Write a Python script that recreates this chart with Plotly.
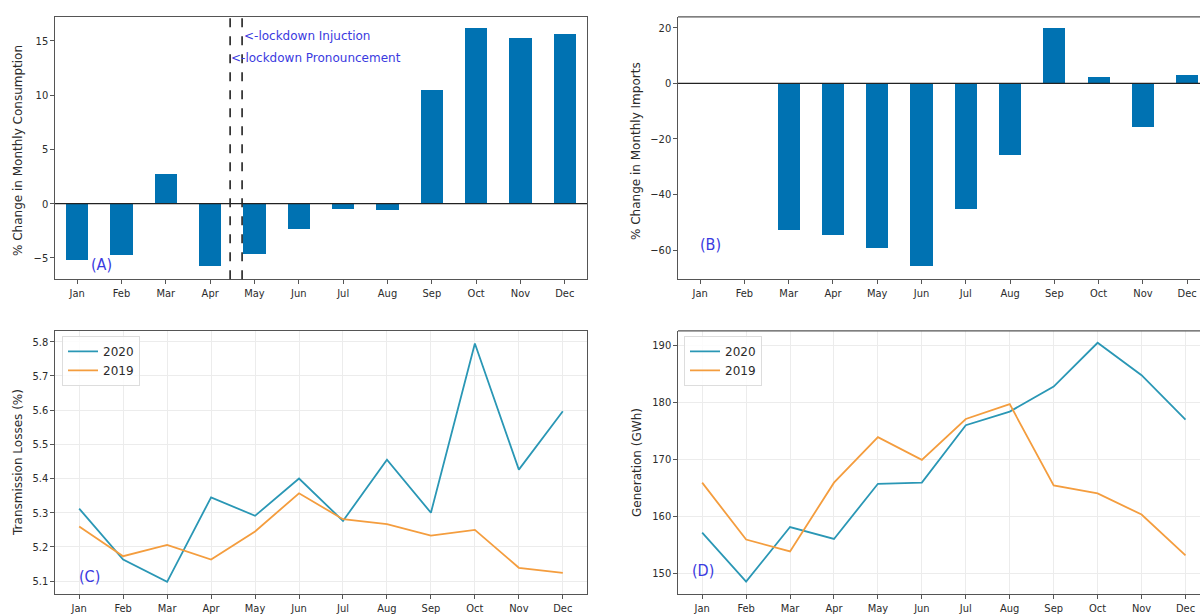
import plotly.graph_objects as go

months = ["Jan", "Feb", "Mar", "Apr", "May", "Jun", "Jul", "Aug", "Sep", "Oct", "Nov", "Dec"]

# (A) % change in monthly consumption, 2020 vs 2019
consumption_change = [-5.2, -4.75, 2.7, -5.7, -4.65, -2.3, -0.5, -0.6, 10.5, 16.2, 15.3, 15.6]
# (B) % change in monthly imports
imports_change = [None, None, -52.7, -54.6, -59.3, -65.8, -45.2, -25.6, 20.0, 2.4, -15.7, 3.2]
# (C) transmission losses (%)
losses_2020 = [5.312, 5.163, 5.098, 5.345, 5.291, 5.400, 5.276, 5.455, 5.300, 5.795, 5.426, 5.597]
losses_2019 = [5.260, 5.173, 5.206, 5.163, 5.245, 5.357, 5.281, 5.267, 5.233, 5.250, 5.139, 5.124]
# (D) generation (GWh)
gen_2020 = [157.1, 148.5, 158.1, 156.0, 165.7, 165.9, 176.0, 178.4, 182.8, 190.5, 184.8, 177.0]
gen_2019 = [165.9, 155.9, 153.8, 165.9, 173.9, 169.9, 177.1, 179.7, 165.4, 164.0, 160.3, 153.1]

# lockdown markers, in month-index units (between Apr and May)
lockdown_pronouncement = 3.45
lockdown_injuction = 3.72

W, H = 1200, 615
BAR = "#0072b2"
C2020 = "#2a97b5"
C2019 = "#f49d3e"
TXT = "#2b2b2b"
SPINE = "#555555"
NOTE = "#3a3ae0"
TICKFONT = "DejaVu Sans Condensed, Liberation Sans Narrow, DejaVu Sans"
FONT = "DejaVu Sans"

idx = list(range(12))


def px_x(a, b):
    return [a / W, b / W]


def px_y(top, bottom):
    return [1 - bottom / H, 1 - top / H]


fig = go.Figure()

fig.add_trace(go.Bar(x=idx, y=consumption_change, width=0.5, marker=dict(color=BAR, line_width=0),
                     xaxis="x", yaxis="y", showlegend=False))
fig.add_trace(go.Bar(x=idx, y=imports_change, width=0.5, marker=dict(color=BAR, line_width=0),
                     xaxis="x2", yaxis="y2", showlegend=False))
fig.add_trace(go.Scatter(x=idx, y=losses_2020, mode="lines", name="2020", line=dict(color=C2020, width=1.8),
                         xaxis="x3", yaxis="y3", legend="legend"))
fig.add_trace(go.Scatter(x=idx, y=losses_2019, mode="lines", name="2019", line=dict(color=C2019, width=1.8),
                         xaxis="x3", yaxis="y3", legend="legend"))
fig.add_trace(go.Scatter(x=idx, y=gen_2020, mode="lines", name="2020", line=dict(color=C2020, width=1.8),
                         xaxis="x4", yaxis="y4", legend="legend2"))
fig.add_trace(go.Scatter(x=idx, y=gen_2019, mode="lines", name="2019", line=dict(color=C2019, width=1.8),
                         xaxis="x4", yaxis="y4", legend="legend2"))

tickfont = dict(family=TICKFONT, size=11, color=TXT)


def xax(domain, rng, anchor, grid, mirror):
    return dict(domain=domain, range=rng, anchor=anchor, tickmode="array", tickvals=idx, ticktext=months,
                tickfont=tickfont, ticks="outside", ticklen=3.5, tickcolor=SPINE, showline=True,
                linecolor=SPINE, linewidth=1.2, mirror=mirror, showgrid=grid, gridcolor="#ececec",
                gridwidth=1, zeroline=False, fixedrange=True)


def yax(domain, rng, anchor, tickvals, ticktext, grid, mirror):
    return dict(domain=domain, range=rng, anchor=anchor, tickmode="array", tickvals=tickvals,
                ticktext=ticktext, tickfont=tickfont, ticks="outside", ticklen=3.5, tickcolor=SPINE,
                showline=True, linecolor=SPINE, linewidth=1.2, mirror=mirror, showgrid=grid,
                gridcolor="#ececec", gridwidth=1, zeroline=False, fixedrange=True)


top_row = px_y(17, 281)
bot_row = px_y(333, 598)
left_col = px_x(55, 587)
right_col = px_x(678, 1200)

legend_style = dict(xanchor="left", yanchor="top", bgcolor="rgba(255,255,255,0.85)",
                    bordercolor="#dddddd", borderwidth=1, font=dict(family=FONT, size=12, color=TXT),
                    tracegroupgap=0, itemwidth=30)

fig.update_layout(
    width=W, height=H, margin=dict(l=0, r=0, t=0, b=0),
    paper_bgcolor="white", plot_bgcolor="white", bargap=0,
    font=dict(family=FONT, color=TXT),
    xaxis=xax(left_col, [-0.5, 11.5], "y", False, True),
    yaxis=yax(top_row, [-6.95, 17.2], "x", [-5, 0, 5, 10, 15], ["−5", "0", "5", "10", "15"], False, True),
    xaxis2=xax(right_col, [-0.5, 11.29], "y2", False, False),
    yaxis2=yax(top_row, [-70.4, 23.9], "x2", [-60, -40, -20, 0, 20], ["−60", "−40", "−20", "0", "20"], False, False),
    xaxis3=xax(left_col, [-0.55, 11.55], "y3", True, True),
    yaxis3=yax(bot_row, [5.062, 5.832], "x3", [5.1, 5.2, 5.3, 5.4, 5.5, 5.6, 5.7, 5.8],
               ["5.1", "5.2", "5.3", "5.4", "5.5", "5.6", "5.7", "5.8"], True, True),
    xaxis4=xax(right_col, [-0.55, 11.33], "y4", True, False),
    yaxis4=yax(bot_row, [146.3, 192.6], "x4", [150, 160, 170, 180, 190],
               ["150", "160", "170", "180", "190"], True, False),
    legend=dict(x=62 / W, y=1 - 338 / H, **legend_style),
    legend2=dict(x=684 / W, y=1 - 338 / H, **legend_style),
)

# top spine for the cropped right-hand panels
for xa, ya in (("x2", "y2"), ("x4", "y4")):
    fig.add_shape(type="line", xref=f"{xa} domain", yref=f"{ya} domain", x0=0, x1=1, y0=1, y1=1,
                  line=dict(color=SPINE, width=1.2))

# zero reference lines for the bar panels
for xa, ya in (("x", "y"), ("x2", "y2")):
    fig.add_shape(type="line", xref=f"{xa} domain", yref=ya, x0=0, x1=1, y0=0, y1=0,
                  line=dict(color="#222222", width=1.3), layer="above")

# lockdown markers in panel A
for xv in (lockdown_pronouncement, lockdown_injuction):
    fig.add_shape(type="line", xref="x", yref="y domain", x0=xv, x1=xv, y0=0, y1=1,
                  line=dict(color="#222222", width=1.6, dash="dash"), layer="above")

fig.add_annotation(x=lockdown_injuction, y=15.4, xref="x", yref="y", text="<-lockdown Injuction",
                   showarrow=False, xanchor="left", xshift=0, font=dict(family=FONT, size=12, color=NOTE))
fig.add_annotation(x=lockdown_pronouncement, y=13.4, xref="x", yref="y", text="<-lockdown Pronouncement",
                   showarrow=False, xanchor="left", xshift=-1, font=dict(family=FONT, size=12, color=NOTE))

# panel letters
panel_letters = [("(A)", 89, 266), ("(B)", 698, 246), ("(C)", 77, 580), ("(D)", 690, 574)]
for label, xp, yp in panel_letters:
    fig.add_annotation(x=xp / W, y=1 - yp / H, xref="paper", yref="paper", text=label, showarrow=False,
                       xanchor="left", yanchor="middle",
                       font=dict(family=TICKFONT, size=16, color=NOTE))

# y-axis titles
y_titles = [("% Change in Monthly Consumption", 18, 152), ("% Change in Monthly Imports", 636, 152),
            ("Transmission Losses (%)", 18, 466), ("Generation (GWh)", 637, 466)]
for label, xp, yp in y_titles:
    fig.add_annotation(x=xp / W, y=1 - yp / H, xref="paper", yref="paper", text=label, showarrow=False,
                       textangle=-90, xanchor="center", yanchor="middle",
                       font=dict(family=FONT, size=12, color=TXT))

fig.write_html("out.html")
